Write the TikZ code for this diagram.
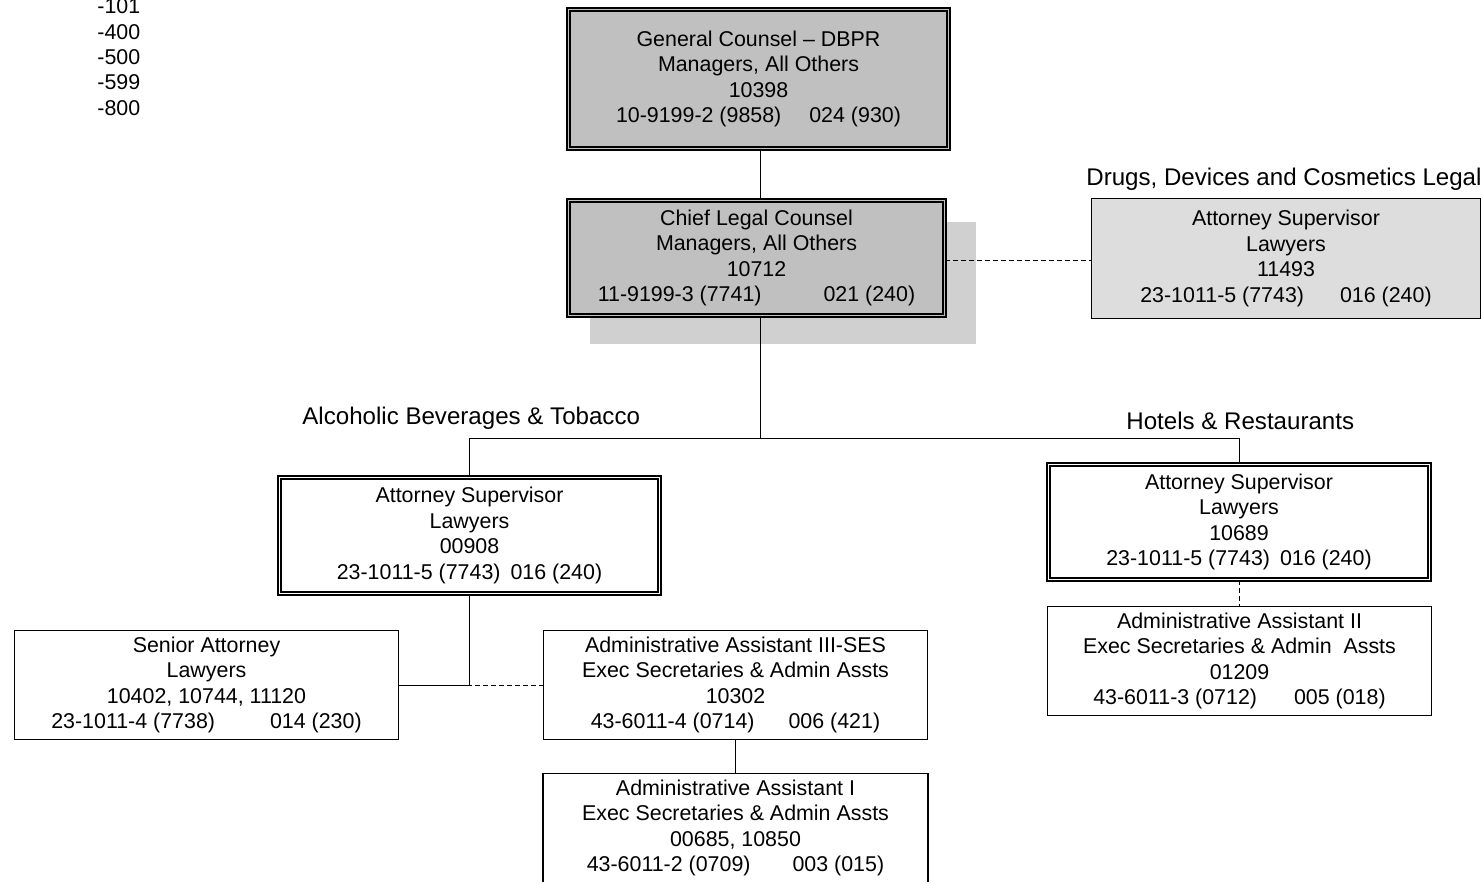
\documentclass[tikz,border=0pt]{standalone}
\usepackage{fontspec}
\setmainfont{Liberation Sans}
\definecolor{boxgray}{HTML}{C0C0C0}
\definecolor{shadowgray}{HTML}{D0D0D0}
\definecolor{lightgray}{HTML}{DDDDDD}
\begin{document}
\begin{tikzpicture}[x=0.5pt,y=-0.5pt,
  txt/.style={font=\fontsize{10.7}{12.75}\selectfont, align=center, inner sep=0pt, text=black},
  dbox/.style={txt, draw=black, line width=0.75pt, double distance=0.95pt},
  sbox/.style={txt, draw=black, line width=0.75pt},
  lab/.style={font=\fontsize{10.7}{12.75}\selectfont, inner sep=0pt, text=black},
  biglab/.style={font=\fontsize{12.05}{14}\selectfont, inner sep=0pt, text=black},
  conn/.style={draw=black, line width=0.5pt},
  dsh/.style={conn, dash pattern=on 2.5pt off 1.5pt}]
\clip (0,0) rectangle (1481,883);
\fill[white] (0,0) rectangle (1481,883);
% shadow behind chief
\fill[shadowgray] (590,222) rectangle (976,344);
% boxes
\node[dbox, fill=boxgray, double=boxgray, minimum width=190pt, minimum height=69.5pt] (gc) at (758.5,79)
  {General Counsel – DBPR\\Managers, All Others\\10398\\10-9199-2 (9858)\hspace{14pt}024 (930)};
\node[dbox, fill=boxgray, double=boxgray, minimum width=188pt, minimum height=57.5pt] (chief) at (756.5,258)
  {Chief Legal Counsel\\Managers, All Others\\10712\\11-9199-3 (7741)\hspace{31pt}021 (240)};
\node[sbox, fill=lightgray, minimum width=194.5pt, minimum height=60pt] (drugs) at (1286,258.5)
  {Attorney Supervisor\\Lawyers\\11493\\23-1011-5 (7743)\hspace{18pt}016 (240)};
\node[dbox, fill=white, double=white, minimum width=190pt, minimum height=58pt] (lAS) at (469.5,535.5)
  {Attorney Supervisor\\Lawyers\\00908\\23-1011-5 (7743)\hspace{5pt}016 (240)};
\node[dbox, fill=white, double=white, minimum width=190.5pt, minimum height=57.5pt] (rAS) at (1239,522)
  {Attorney Supervisor\\Lawyers\\10689\\23-1011-5 (7743)\hspace{5pt}016 (240)};
\node[sbox, fill=white, minimum width=192pt, minimum height=54.5pt] (admin2) at (1239.5,661)
  {Administrative Assistant II\\Exec Secretaries \& Admin\ \ Assts\\01209\\43-6011-3 (0712)\hspace{18.5pt}005 (018)};
\node[sbox, fill=white, minimum width=192pt, minimum height=54.5pt] (senior) at (206.5,685)
  {Senior Attorney\\Lawyers\\10402, 10744, 11120\\23-1011-4 (7738)\hspace{27.5pt}014 (230)};
\node[sbox, fill=white, minimum width=192pt, minimum height=54.5pt] (admin3) at (735.5,685)
  {Administrative Assistant III-SES\\Exec Secretaries \& Admin Assts\\10302\\43-6011-4 (0714)\hspace{17pt}006 (421)};
\node[txt, minimum width=192pt, minimum height=54pt] (admin1) at (735.5,828)
  {Administrative Assistant I\\Exec Secretaries \& Admin Assts\\00685, 10850\\43-6011-2 (0709)\hspace{21pt}003 (015)};
\draw[line width=0.75pt] (admin1.south west) -- (admin1.north west) -- (admin1.north east) -- (admin1.south east);
% labels
\node[biglab, anchor=base west] (alc) at (302,424.5) {Alcoholic Beverages \& Tobacco};
\node[biglab, anchor=base west] (hot) at (1126,429.5) {Hotels \& Restaurants};
\node[biglab, anchor=base west] (drl) at (1086,185.5) {Drugs, Devices and Cosmetics Legal};
\node[lab, anchor=base west] (c1) at (97,14) {-101};
\node[lab, anchor=base west] (c2) at (97,39.5) {-400};
\node[lab, anchor=base west] (c3) at (97,65) {-500};
\node[lab, anchor=base west] (c4) at (97,90) {-599};
\node[lab, anchor=base west] (c5) at (97,115) {-800};
% connectors
\coordinate (bus) at (760,438);
\draw[conn] (gc.south -| bus) -- (chief.north -| bus);
\draw[conn] (chief.south -| bus) -- (bus);
\draw[conn] (lAS.north) |- (bus);
\draw[conn] (rAS.north) |- (bus);
\draw[dsh] ([yshift=-1pt]chief.east) -- ([yshift=-1pt]chief.east -| drugs.west);
\draw[dsh] (rAS.south) -- (rAS.south |- admin2.north);
\draw[conn] (lAS.south) |- (senior.east);
\draw[dsh] (lAS.south) |- (admin3.west);
\draw[conn] (admin3.south) -- (admin1.north);
\end{tikzpicture}
\end{document}
